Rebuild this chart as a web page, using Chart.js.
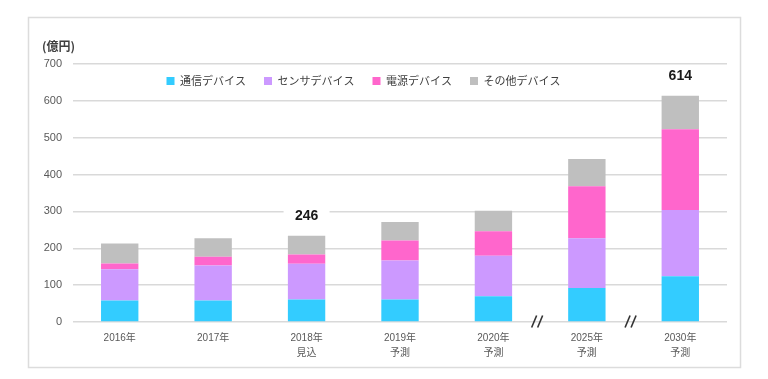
<!DOCTYPE html>
<html><head><meta charset="utf-8">
<script src="https://cdn.jsdelivr.net/npm/chart.js@4.4.0/dist/chart.umd.min.js"></script>
<style>html,body{margin:0;padding:0;background:#fff;}#wrap{width:768px;height:379px;}</style>
</head><body><div id="wrap"><canvas id="c" width="768" height="379"></canvas></div>
<script>
// ---- data ----
const years = ['2016年', '2017年', '2018年', '2019年', '2020年', '2025年', '2030年'];
const subLabels = ['', '', '見込', '予測', '予測', '予測', '予測'];
const seriesNames = ['通信デバイス', 'センサデバイス', '電源デバイス', 'その他デバイス'];
const comm   = [58, 58, 61, 61, 70, 92, 124];
const sensor = [85, 95, 97, 106, 110, 135, 180];
const power  = [16, 24, 25, 54, 66, 141, 219];
const other  = [54, 50, 51, 50, 56, 74, 91];
const totalLabels = ['', '', '246', '', '', '', '614'];
const breakAfter = [4, 5];
const unitLabel = '(億円)';
const yMin = 0, yMax = 700, yStep = 100;

// ---- styles ----
const colors = ['#33ccff', '#cc99ff', '#ff66cc', '#bfbfbf'];
const FONT = "'Liberation Sans', 'Noto Sans CJK JP', sans-serif";
const CJK = "'Noto Sans CJK JP', 'Liberation Sans', sans-serif";

const labels = years.map((y, i) => subLabels[i] ? [y, subLabels[i]] : y);
const values = [comm, sensor, power, other];

const decor = {
  id: 'decor',
  beforeLayout(chart) {
    const lg = chart.legend;
    if (lg && !lg._patched) {
      const f = lg.fit;
      lg.fit = function () { f.call(this); this.height = 6.5; };
      const d = lg.draw;
      lg.draw = function () {
        const b = this.bottom, h = this.height;
        this.bottom = this.top + 40; this.height = 40;
        d.call(this);
        this.bottom = b; this.height = h;
      };
      lg._patched = true;
    }
  },
  beforeDraw(chart) {
    const ctx = chart.ctx;
    ctx.save();
    ctx.fillStyle = '#fff';
    ctx.fillRect(0, 0, chart.width, chart.height);
    ctx.strokeStyle = '#dcdcdc';
    ctx.lineWidth = 1.5;
    ctx.strokeRect(28.5, 17.5, 712, 350);
    ctx.restore();
  },
  afterDatasetsDraw(chart) {
    const ctx = chart.ctx;
    const xs = chart.scales.x, ys = chart.scales.y;
    const top = chart.getDatasetMeta(chart.data.datasets.length - 1);
    ctx.save();
    // total labels
    totalLabels.forEach((t, i) => {
      if (!t) return;
      const bar = top.data[i];
      const x = bar.x, y = bar.y - 20;
      ctx.fillStyle = '#fff';
      ctx.fillRect(x - 23, y - 8, 46, 16);
      ctx.fillStyle = '#1a1a1a';
      ctx.font = 'bold 14px ' + FONT;
      ctx.textAlign = 'center';
      ctx.textBaseline = 'middle';
      ctx.fillText(t, x, y);
    });
    // axis break marks
    const y0 = ys.getPixelForValue(0);
    ctx.strokeStyle = '#333';
    ctx.lineWidth = 1.6;
    breakAfter.forEach(i => {
      const x = (xs.getPixelForValue(i) + xs.getPixelForValue(i + 1)) / 2 - 3;
      [-3, 3].forEach(k => {
        ctx.beginPath();
        ctx.moveTo(x + k - 2.5, y0 + 5.5);
        ctx.lineTo(x + k + 2.5, y0 - 6.5);
        ctx.stroke();
      });
    });
    // unit label
    ctx.fillStyle = '#404040';
    ctx.font = 'bold 12px ' + CJK;
    ctx.textAlign = 'left';
    ctx.textBaseline = 'middle';
    ctx.fillText(unitLabel, 42, 46);
    ctx.restore();
  }
};

new Chart(document.getElementById('c'), {
  type: 'bar',
  data: {
    labels: labels,
    datasets: values.map((v, i) => ({
      label: seriesNames[i],
      data: v,
      backgroundColor: colors[i],
      borderWidth: 0,
      barPercentage: 0.4,
      categoryPercentage: 1
    }))
  },
  options: {
    responsive: false,
    animation: false,
    devicePixelRatio: 1,
    layout: { padding: { left: 0, right: 41, top: 57.5, bottom: 0 } },
    plugins: {
      legend: {
        position: 'top',
        align: 'center',
        labels: {
          boxWidth: 8, boxHeight: 8, padding: 18,
          color: '#404040',
          font: { family: CJK, size: 11 }
        }
      },
      tooltip: { enabled: false },
      title: { display: false }
    },
    scales: {
      x: {
        stacked: true,
        grid: { display: false, drawTicks: false },
        border: { display: false },
        ticks: {
          color: '#595959', padding: 9, maxRotation: 0, autoSkip: false,
          font: { family: FONT, size: 10, lineHeight: 1.5 }
        },
        afterFit(s) { s.height = 57; }
      },
      y: {
        stacked: true,
        min: yMin, max: yMax,
        grid: { color: '#d9d9d9', lineWidth: 1.5, drawTicks: false },
        border: { display: false },
        ticks: {
          stepSize: yStep, color: '#595959', padding: 11,
          font: { family: FONT, size: 11 }
        },
        afterFit(s) { s.width = 73; }
      }
    }
  },
  plugins: [decor]
});
</script>
</body></html>
